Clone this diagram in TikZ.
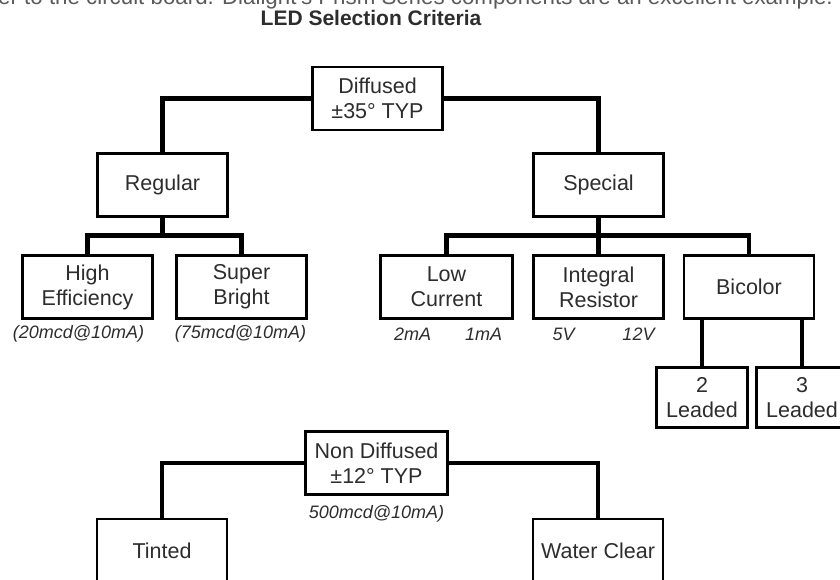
\documentclass[tikz,border=0pt]{standalone}
\usepackage{fontspec}
\setmainfont{Liberation Sans}
\usepackage{tikz}
\usetikzlibrary{calc,positioning}
\usepackage{xcolor}
\definecolor{ledink}{RGB}{45,45,45}
\definecolor{ledgrey}{RGB}{90,90,90}

\begin{document}
\begin{tikzpicture}[x=1pt,y=-1pt,
  critbox/.style={draw=black,line width=2.2pt,fill=white,minimum width=130pt,minimum height=63pt,
    inner sep=0pt,align=center,text=ledink,font=\fontsize{21.5}{25}\selectfont},
  branch/.style={line width=4.5pt,black},
  ratng/.style={font=\fontsize{18}{20}\selectfont\itshape,text=ledink,inner sep=0pt}]
  \useasboundingbox (0,0) rectangle (840,579);
  \clip (0,0) rectangle (840,579);
  \node[anchor=base east,inner sep=0pt,text=ledgrey,font=\fontsize{22.3}{24}\selectfont] (intro) at (833,4.7)
    {er to the circuit board. Dialight's Prism Series components are an excellent example.};
  \node[anchor=base,inner sep=0pt,text=ledink,font=\fontsize{21}{24}\selectfont\bfseries] (title) at (371,25.5) {LED Selection Criteria};
  % diffused branch
  \node[critbox] (diffused) at (377.5,98.5) {Diffused\\±35° TYP};
  \node[critbox] (regular) at (162.5,185) {Regular};
  \node[critbox] (special) at (598.5,185) {Special};
  \node[critbox] (higheff) at (87.5,287) {High\\Efficiency};
  \node[critbox] (superbright) at (241.5,287) {Super\\Bright};
  \node[critbox,minimum width=132pt] (lowcurrent) at (446.5,287) {Low\\Current};
  \node[critbox] (intresistor) at (598.5,287) {Integral\\Resistor};
  \node[critbox] (bicolor) at (749,287) {Bicolor};
  \node[critbox,minimum width=91pt,minimum height=60pt] (twolead) at (702,397.5) {2\\Leaded};
  \node[critbox,minimum width=91pt,minimum height=60pt] (threelead) at (802,397.5) {3\\Leaded};
  \draw[branch] (diffused.west) -| (regular.north);
  \draw[branch] (diffused.east) -| (special.north);
  \draw[branch] (regular.south) -- ++(0,18) coordinate (regjoin);
  \draw[branch] (higheff.north) |- (regjoin) -| (superbright.north);
  \draw[branch] (special.south) -- ++(0,18) coordinate (specjoin);
  \draw[branch] (lowcurrent.north) |- (specjoin) -| (bicolor.north);
  \draw[branch] (specjoin) -- (intresistor.north);
  \draw[branch] (twolead.north) -- (twolead.north |- bicolor.south);
  \draw[branch] (threelead.north) -- (threelead.north |- bicolor.south);
  \node[ratng] (hefrate) at ($(higheff.south)+(-9,14)$) {(20mcd@10mA)};
  \node[ratng] (sbrate) at ($(superbright.south)+(-1,14)$) {(75mcd@10mA)};
  \node[ratng] (lcmin) at ($(lowcurrent.south)+(-34,15)$) {2mA};
  \node[ratng] (lcmax) at ($(lowcurrent.south)+(37,15)$) {1mA};
  \node[ratng] (irlow) at ($(intresistor.south)+(-35,15)$) {5V};
  \node[ratng] (irhigh) at ($(intresistor.south)+(40,15)$) {12V};
  % non diffused branch
  \node[critbox,minimum width=142pt] (nondiffused) at (376.5,463) {Non Diffused\\±12° TYP};
  \node[critbox,minimum height=64pt] (tinted) at (162,551) {Tinted};
  \node[critbox,minimum height=64pt] (waterclear) at (598,551) {Water Clear};
  \draw[branch] (nondiffused.west) -| (tinted.north);
  \draw[branch] (nondiffused.east) -| (waterclear.north);
  \node[ratng] (ndrate) at ($(nondiffused.south)+(0,18)$) {500mcd@10mA)};
\end{tikzpicture}
\end{document}
